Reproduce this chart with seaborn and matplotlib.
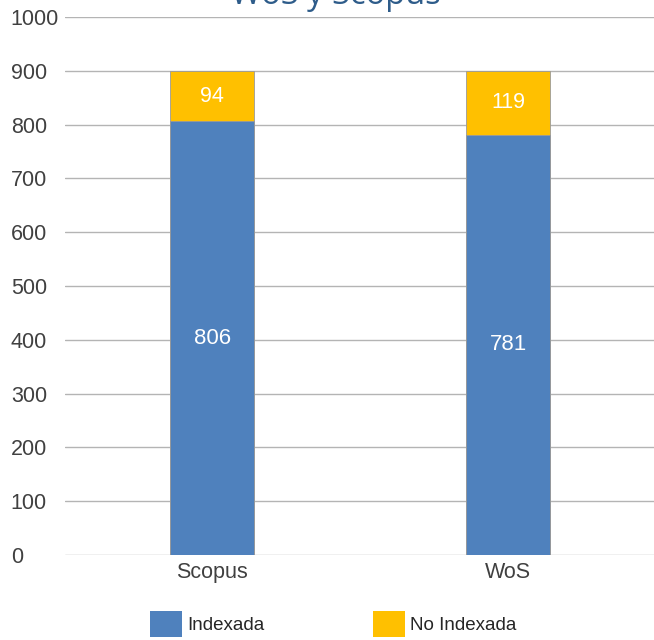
import numpy as np
import pandas as pd
import matplotlib
matplotlib.use("Agg")
import matplotlib.pyplot as plt
import seaborn as sns
from matplotlib.patches import Patch

# data
bases = ["Scopus", "WoS"]
indexada = [806, 781]
no_indexada = [94, 119]
series_names = ["Indexada", "No Indexada"]
yticks = [0, 100, 200, 300, 400, 500, 600, 700, 800, 900, 1000]

blue = "#4F81BD"
yellow = "#FFC000"

sns.set_style("white")
plt.rcParams["font.family"] = ["Liberation Sans", "DejaVu Sans"]

df = pd.DataFrame({"Base": bases, "Indexada": indexada, "No Indexada": no_indexada})
df["Total"] = df["Indexada"] + df["No Indexada"]

fig = plt.figure(figsize=(6.54, 6.4), dpi=100)
ax = fig.add_axes([0.0994, 0.1328, 0.9006, 0.8406])

# stacked bars: total in yellow, indexada in blue on top
sns.barplot(data=df, x="Base", y="Total", color=yellow, width=0.284,
            saturation=1, edgecolor="#9a9a9a", linewidth=0.6, ax=ax, zorder=3)
sns.barplot(data=df, x="Base", y="Indexada", color=blue, width=0.284,
            saturation=1, edgecolor="#9a9a9a", linewidth=0.6, ax=ax, zorder=3)

for i, row in df.iterrows():
    ax.text(i, row["Indexada"] / 2, str(row["Indexada"]), color="white",
            ha="center", va="center", fontsize=16, zorder=5)
    ax.text(i, row["Indexada"] + row["No Indexada"] / 2, str(row["No Indexada"]),
            color="white", ha="center", va="center", fontsize=15.5, zorder=5)

ax.set_xlim(-0.497, 1.493)
ax.set_ylim(0, 1000)
ax.set_yticks(yticks)
ax.yaxis.grid(True, color="#b4b4b4", linewidth=1.0, zorder=0)
ax.set_axisbelow(True)
for s in ax.spines.values():
    s.set_visible(False)
ax.set_xlabel("")
ax.set_ylabel("")
ax.tick_params(axis="y", length=0, pad=39, labelsize=15.5, labelcolor="#404040")
ax.tick_params(axis="x", length=0, pad=5, labelsize=15.5, labelcolor="#404040")
for lab in ax.get_yticklabels():
    lab.set_horizontalalignment("left")

fig.text(0.513, 0.993, "WoS y Scopus", ha="center", va="baseline",
         fontsize=23.5, color="#2E5C8A", family=["Open Sans", "DejaVu Sans"])

handles = [Patch(facecolor=blue, edgecolor="none"),
           Patch(facecolor=yellow, edgecolor="none")]
fig.legend(handles, series_names, loc="center", bbox_to_anchor=(0.51, 0.025),
           ncol=2, frameon=False, fontsize=13.5, handlelength=1.7, handleheight=1.7,
           handletextpad=0.27, columnspacing=5.8, borderpad=0.2)

fig.savefig("out.png", dpi=100)
